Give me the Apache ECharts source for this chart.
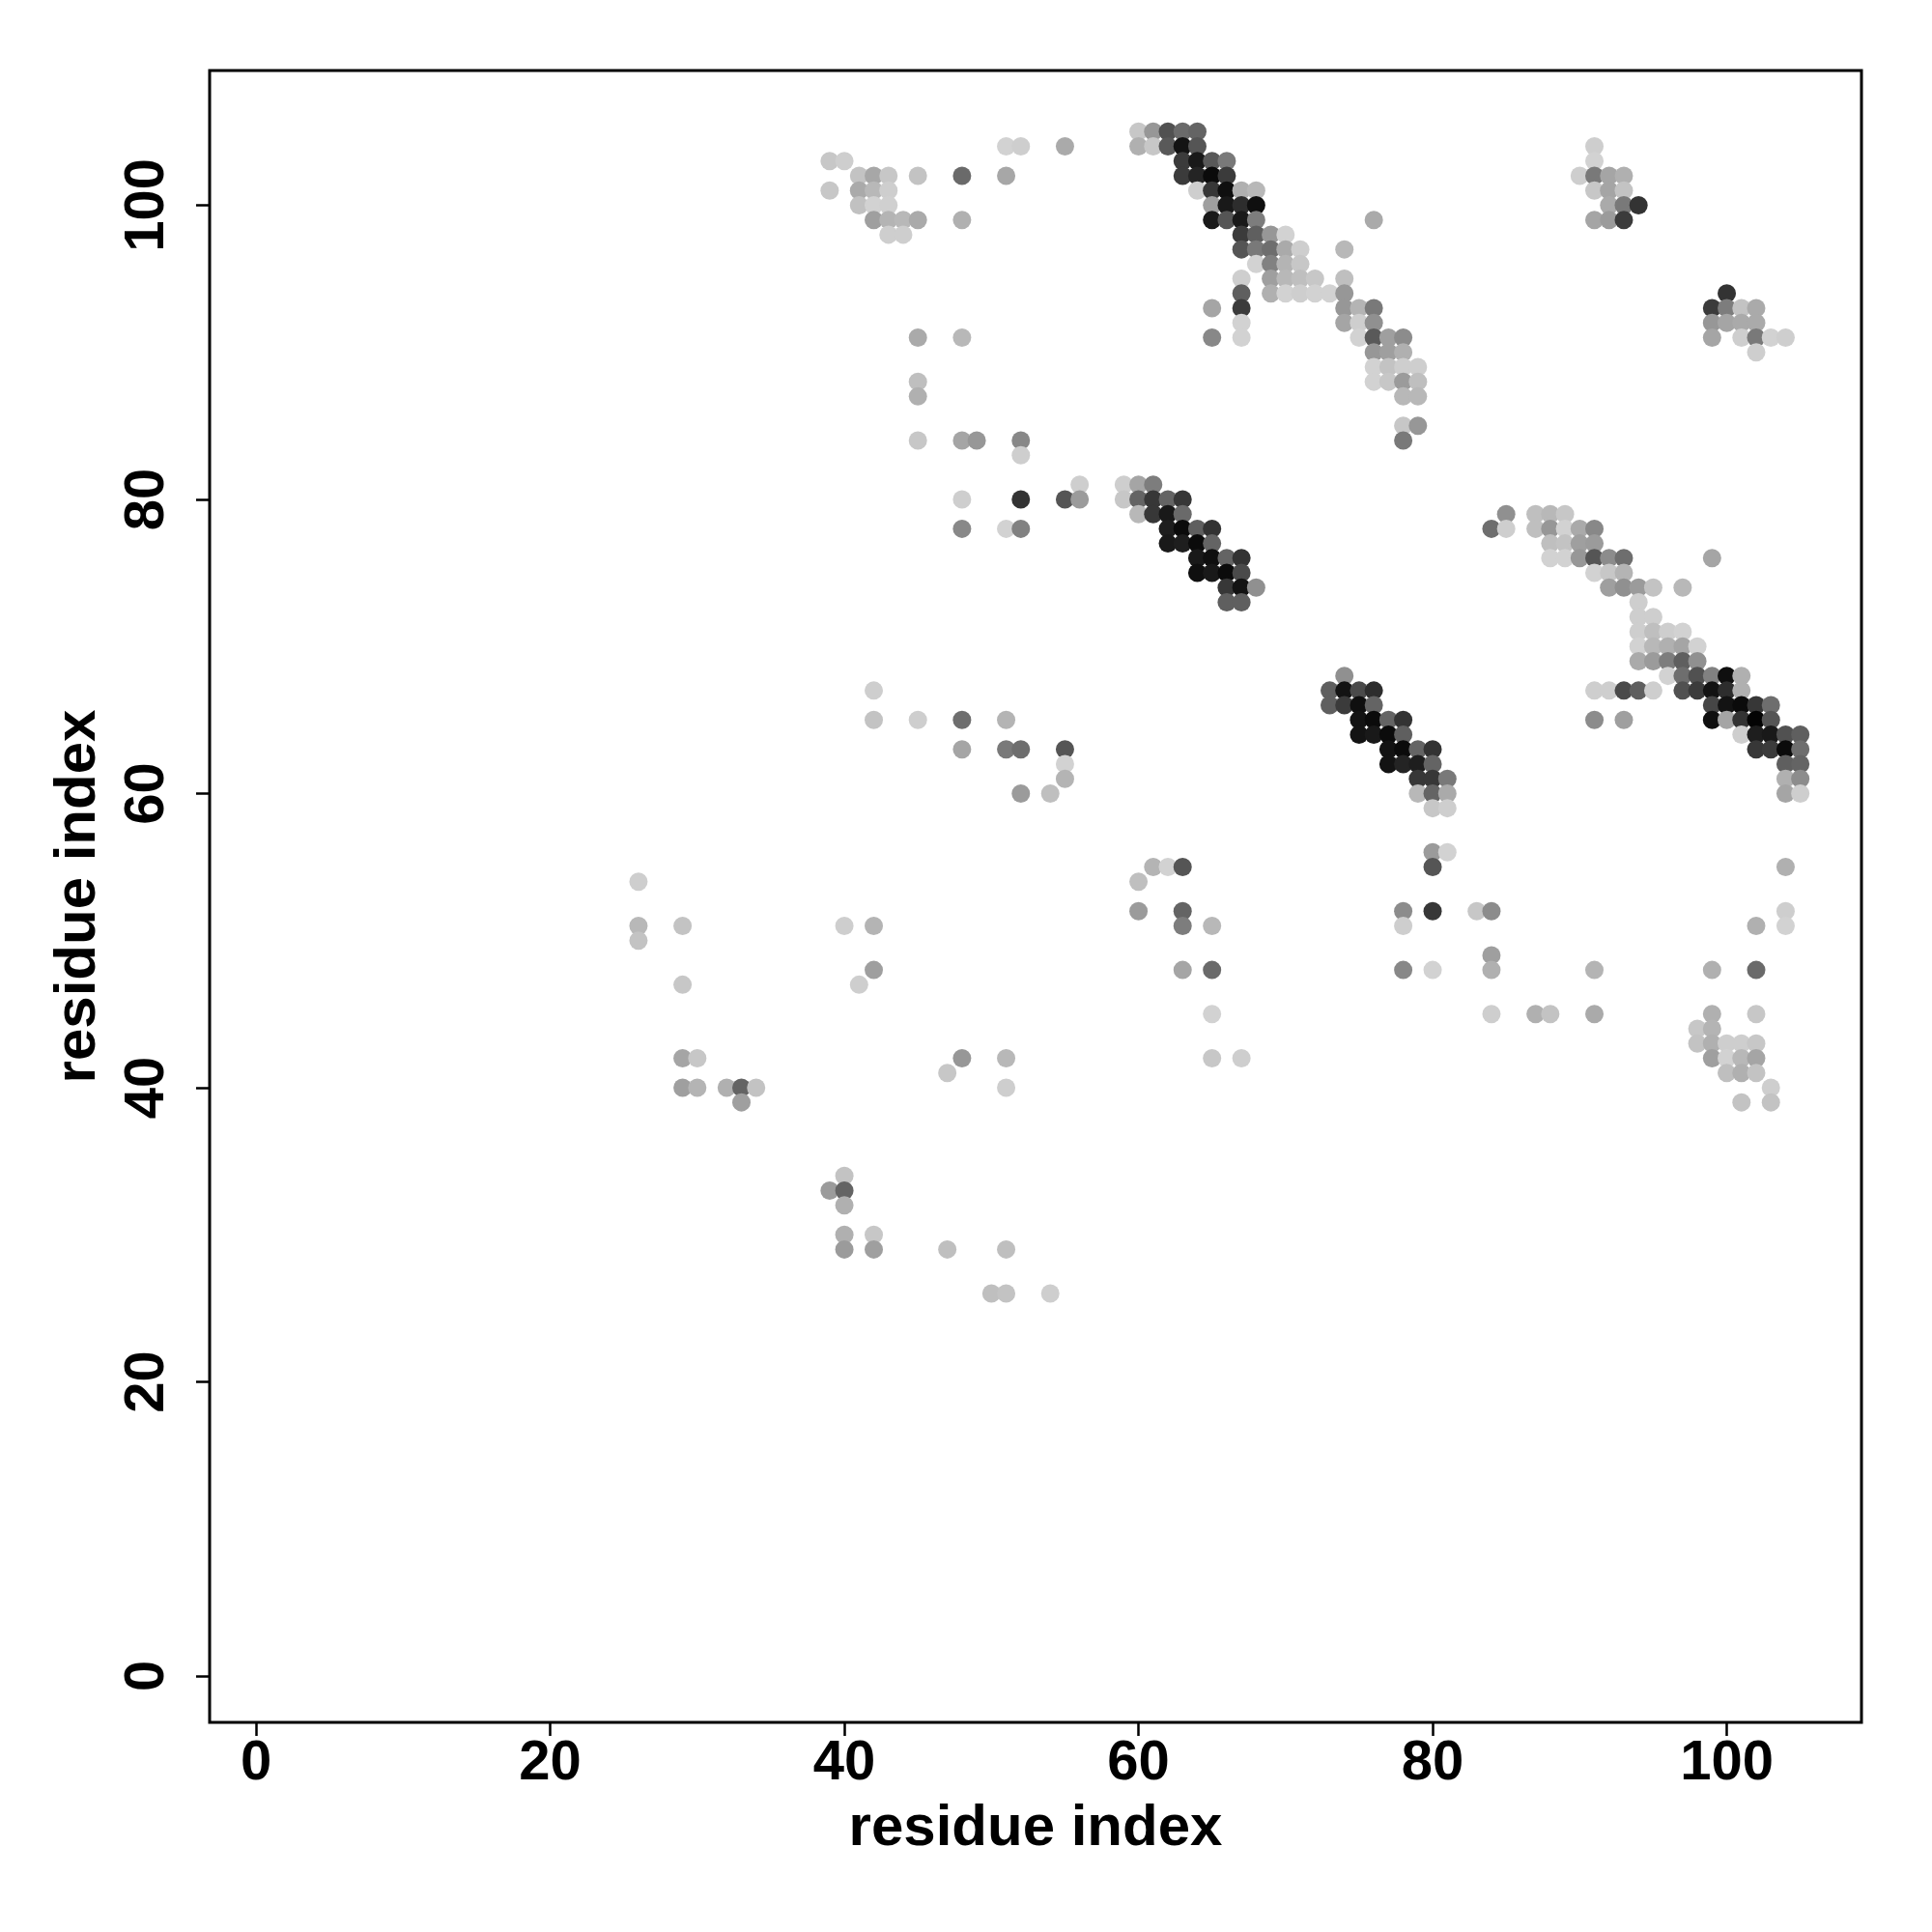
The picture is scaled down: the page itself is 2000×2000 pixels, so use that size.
<!DOCTYPE html>
<html><head><meta charset="utf-8">
<script src="https://cdn.jsdelivr.net/npm/echarts@6/dist/echarts.min.js"></script>
<style>html,body{margin:0;padding:0;background:#fff}#chart{width:2000px;height:2000px}</style>
</head><body><div id="chart"></div>
<script>
const xTickValues = [0, 20, 40, 60, 80, 100];
const yTickValues = [0, 20, 40, 60, 80, 100];
const xTitle = 'residue index';
const yTitle = 'residue index';

// contacts: [residue i, residue j, contact probability]
const contacts = [
  [60,105,0.06],[61,105,0.29],[62,105,0.62],[63,105,0.50],[64,105,0.53],
  [51,104,0.01],[52,104,0.03],[55,104,0.20],[60,104,0.17],[61,104,0.06],[62,104,0.58],[63,104,0.91],[64,104,0.60],[91,104,0.03],
  [39,103,0.06],[40,103,0.03],[63,103,0.72],[64,103,0.88],[65,103,0.58],[66,103,0.43],[91,103,0.01],
  [41,102,0.08],[42,102,0.21],[43,102,0.06],[45,102,0.08],[48,102,0.50],[51,102,0.21],[63,102,0.72],[64,102,0.83],[65,102,0.95],[66,102,0.72],[90,102,0.03],[91,102,0.43],[92,102,0.22],[93,102,0.17],
  [39,101,0.06],[41,101,0.20],[42,101,0.13],[43,101,0.03],[64,101,0.03],[65,101,0.74],[66,101,0.93],[67,101,0.17],[68,101,0.13],[91,101,0.06],[92,101,0.22],[93,101,0.08],
  [41,100,0.09],[42,100,0.01],[43,100,0.02],[65,100,0.25],[66,100,0.88],[67,100,0.79],[68,100,0.93],[92,100,0.20],[93,100,0.43],[94,100,0.76],
  [42,99,0.25],[43,99,0.15],[44,99,0.13],[45,99,0.20],[48,99,0.17],[65,99,0.88],[66,99,0.60],[67,99,0.88],[68,99,0.41],[76,99,0.20],[91,99,0.22],[92,99,0.27],[93,99,0.72],
  [43,98,0.03],[44,98,0.03],[67,98,0.72],[68,98,0.55],[69,98,0.29],[70,98,0.01],
  [67,97,0.60],[68,97,0.43],[69,97,0.48],[70,97,0.20],[71,97,0.03],[74,97,0.13],
  [68,96,0.01],[69,96,0.39],[70,96,0.15],[71,96,0.06],
  [67,95,0.03],[69,95,0.25],[70,95,0.13],[71,95,0.10],[72,95,0.06],[74,95,0.10],
  [67,94,0.55],[69,94,0.17],[70,94,0.01],[71,94,0.03],[72,94,0.01],[73,94,0.01],[74,94,0.29],[100,94,0.76],
  [65,93,0.22],[67,93,0.72],[74,93,0.29],[75,93,0.15],[76,93,0.43],[99,93,0.72],[100,93,0.41],[101,93,0.08],[102,93,0.20],
  [67,92,0.01],[74,92,0.22],[75,92,0.03],[76,92,0.32],[99,92,0.29],[100,92,0.22],[101,92,0.20],[102,92,0.20],
  [45,91,0.20],[48,91,0.13],[65,91,0.36],[67,91,0.01],[75,91,0.01],[76,91,0.58],[77,91,0.25],[78,91,0.34],[99,91,0.22],[101,91,0.03],[102,91,0.43],[103,91,0.01],[104,91,0.03],
  [76,90,0.29],[77,90,0.25],[78,90,0.17],[102,90,0.03],
  [76,89,0.01],[77,89,0.08],[78,89,0.03],[79,89,0.03],
  [45,88,0.10],[76,88,0.01],[77,88,0.06],[78,88,0.27],[79,88,0.10],
  [45,87,0.17],[78,87,0.13],[79,87,0.13],
  [78,85,0.06],[79,85,0.29],
  [45,84,0.06],[48,84,0.22],[49,84,0.29],[52,84,0.36],[78,84,0.43],
  [52,83,0.03],
  [56,81,0.03],[59,81,0.03],[60,81,0.22],[61,81,0.41],
  [48,80,0.03],[52,80,0.76],[55,80,0.60],[56,80,0.27],[59,80,0.06],[60,80,0.53],[61,80,0.74],[62,80,0.53],[63,80,0.74],
  [60,79,0.13],[61,79,0.74],[62,79,0.88],[63,79,0.50],[85,79,0.32],[87,79,0.10],[88,79,0.13],[89,79,0.06],
  [48,78,0.36],[51,78,0.01],[52,78,0.39],[62,78,0.86],[63,78,0.95],[64,78,0.55],[65,78,0.76],[84,78,0.48],[85,78,0.03],[87,78,0.10],[88,78,0.29],[89,78,0.01],[90,78,0.20],[91,78,0.36],
  [62,77,0.88],[63,77,0.86],[64,77,0.95],[65,77,0.53],[88,77,0.10],[89,77,0.08],[90,77,0.25],[91,77,0.27],
  [64,76,0.88],[65,76,0.93],[66,76,0.53],[67,76,0.76],[88,76,0.01],[89,76,0.01],[90,76,0.29],[91,76,0.60],[92,76,0.34],[93,76,0.48],[99,76,0.22],
  [64,75,0.93],[65,75,0.88],[66,75,0.95],[67,75,0.65],[91,75,0.01],[92,75,0.06],[93,75,0.15],
  [66,74,0.74],[67,74,0.91],[68,74,0.32],[92,74,0.25],[93,74,0.32],[94,74,0.27],[95,74,0.08],[97,74,0.13],
  [66,73,0.55],[67,73,0.55],[94,73,0.03],
  [94,72,0.03],[95,72,0.03],
  [94,71,0.03],[95,71,0.10],[96,71,0.03],[97,71,0.01],
  [94,70,0.01],[95,70,0.13],[96,70,0.17],[97,70,0.22],[98,70,0.01],
  [94,69,0.20],[95,69,0.27],[96,69,0.41],[97,69,0.55],[98,69,0.32],
  [74,68,0.32],[96,68,0.01],[97,68,0.48],[98,68,0.62],[99,68,0.39],[100,68,0.93],[101,68,0.17],
  [42,67,0.03],[73,67,0.55],[74,67,0.91],[75,67,0.65],[76,67,0.79],[91,67,0.03],[92,67,0.03],[93,67,0.65],[94,67,0.55],[95,67,0.03],[97,67,0.62],[98,67,0.72],[99,67,0.91],[100,67,0.79],[101,67,0.17],
  [73,66,0.55],[74,66,0.72],[75,66,0.93],[76,66,0.53],[99,66,0.67],[100,66,0.91],[101,66,0.95],[102,66,0.74],[103,66,0.48],
  [42,65,0.08],[45,65,0.03],[48,65,0.48],[51,65,0.15],[75,65,0.91],[76,65,0.95],[77,65,0.53],[78,65,0.76],[91,65,0.34],[93,65,0.25],[99,65,0.93],[100,65,0.22],[101,65,0.76],[102,65,0.98],[103,65,0.60],
  [75,64,0.91],[76,64,0.88],[77,64,0.95],[78,64,0.55],[101,64,0.03],[102,64,0.86],[103,64,0.88],[104,64,0.62],[105,64,0.55],
  [48,63,0.22],[51,63,0.43],[52,63,0.48],[55,63,0.60],[77,63,0.91],[78,63,0.95],[79,63,0.53],[80,63,0.76],[102,63,0.74],[103,63,0.72],[104,63,0.95],[105,63,0.48],
  [55,62,0.01],[77,62,0.91],[78,62,0.83],[79,62,0.86],[80,62,0.53],[104,62,0.55],[105,62,0.53],
  [55,61,0.15],[79,61,0.74],[80,61,0.74],[81,61,0.43],[104,61,0.17],[105,61,0.34],
  [52,60,0.27],[54,60,0.10],[79,60,0.13],[80,60,0.53],[81,60,0.20],[104,60,0.22],[105,60,0.03],
  [80,59,0.06],[81,59,0.03],
  [80,56,0.27],[81,56,0.01],
  [61,55,0.15],[62,55,0.01],[63,55,0.60],[80,55,0.60],[104,55,0.17],
  [26,54,0.03],[60,54,0.10],
  [60,52,0.27],[63,52,0.53],[78,52,0.34],[80,52,0.74],[83,52,0.06],[84,52,0.34],[104,52,0.03],
  [26,51,0.13],[29,51,0.08],[40,51,0.03],[42,51,0.15],[63,51,0.41],[65,51,0.13],[78,51,0.03],[102,51,0.17],[104,51,0.01],
  [26,50,0.08],
  [84,49,0.25],
  [42,48,0.25],[63,48,0.22],[65,48,0.50],[78,48,0.36],[80,48,0.01],[84,48,0.17],[91,48,0.15],[99,48,0.17],[102,48,0.50],
  [29,47,0.06],[41,47,0.03],
  [65,45,0.01],[84,45,0.03],[87,45,0.17],[88,45,0.08],[91,45,0.20],[99,45,0.17],[102,45,0.06],
  [98,44,0.06],[99,44,0.15],
  [98,43,0.08],[99,43,0.17],[100,43,0.03],[101,43,0.03],[102,43,0.06],
  [29,42,0.22],[30,42,0.06],[48,42,0.29],[51,42,0.13],[65,42,0.06],[67,42,0.03],[99,42,0.25],[100,42,0.01],[101,42,0.13],[102,42,0.22],
  [47,41,0.06],[100,41,0.10],[101,41,0.17],[102,41,0.08],
  [29,40,0.25],[30,40,0.15],[32,40,0.17],[33,40,0.53],[34,40,0.08],[51,40,0.03],[103,40,0.03],
  [33,39,0.25],[101,39,0.08],[103,39,0.08],
  [40,34,0.08],
  [39,33,0.27],[40,33,0.53],
  [40,32,0.17],
  [40,30,0.17],[42,30,0.06],
  [40,29,0.27],[42,29,0.25],[47,29,0.10],[51,29,0.10],
  [50,26,0.10],[51,26,0.08],[54,26,0.03]
];

const font = '"Liberation Sans", Arial, Helvetica, sans-serif';
const tickStyle = { fontSize: 58, fontWeight: 'bold', color: '#000', fontFamily: font };
const titleStyle = { fontSize: 60, fontWeight: 'bold', color: '#000', fontFamily: font };

const chart = echarts.init(document.getElementById('chart'), null, { renderer: 'canvas', width: 2000, height: 2000 });
chart.setOption({
  animation: false,
  backgroundColor: '#fff',
  grid: { left: 217, top: 73, width: 1710, height: 1710, show: true, borderColor: '#000', borderWidth: 3, backgroundColor: 'transparent' },
  xAxis: {
    type: 'value', min: -3.16, max: 109.16,
    name: xTitle, nameLocation: 'middle', nameGap: 80, nameTextStyle: titleStyle,
    axisLine: { show: false, onZero: false }, splitLine: { show: false },
    axisTick: { show: true, length: 14, lineStyle: { color: '#000', width: 2.5 }, customValues: xTickValues },
    axisLabel: Object.assign({ customValues: xTickValues, margin: 14 }, tickStyle)
  },
  yAxis: {
    type: 'value', min: -3.16, max: 109.16,
    name: yTitle, nameLocation: 'middle', nameGap: 106, nameTextStyle: titleStyle,
    axisLine: { show: false, onZero: false }, splitLine: { show: false },
    axisTick: { show: true, length: 14, lineStyle: { color: '#000', width: 2.5 }, customValues: yTickValues },
    axisLabel: Object.assign({ customValues: yTickValues, margin: 35, rotate: 90 }, tickStyle)
  },
  visualMap: { show: false, type: 'continuous', min: 0, max: 1, dimension: 2, inRange: { color: ['#d4d4d4', '#000000'] } },
  series: [{ type: 'scatter', data: contacts, symbol: 'circle', symbolSize: 19, itemStyle: { opacity: 1 } }]
});
</script>
</body></html>
